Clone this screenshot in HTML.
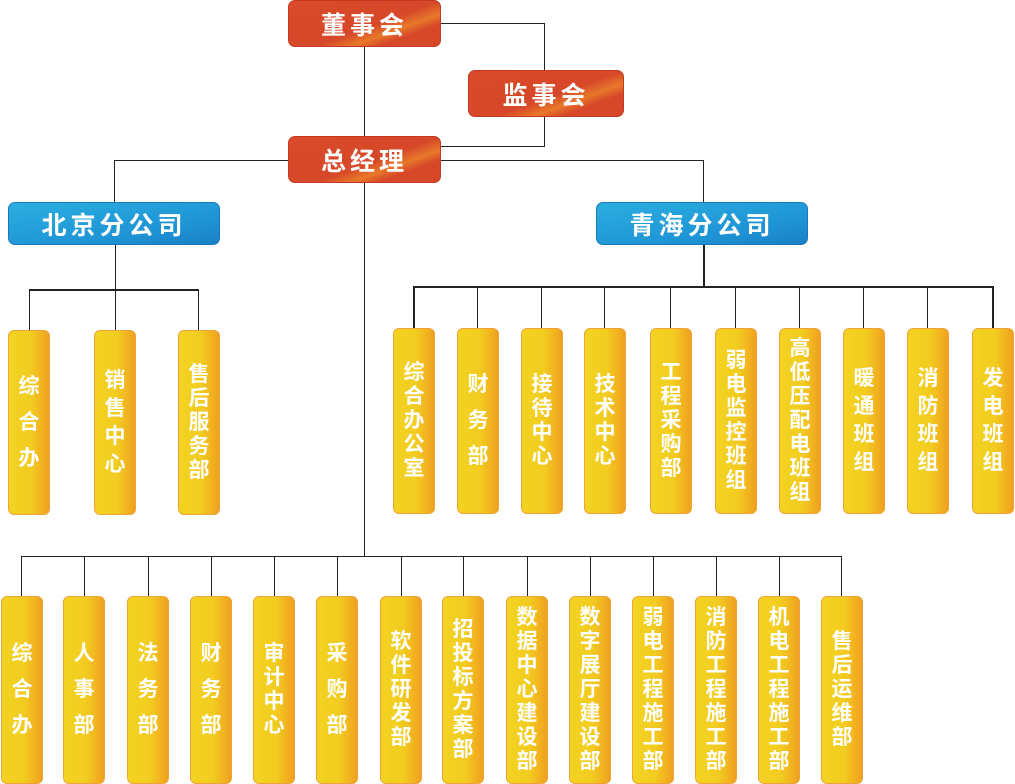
<!DOCTYPE html>
<html><head><meta charset="utf-8"><style>
body{margin:0;width:1015px;height:782px;background:#fff;position:relative;overflow:hidden;font-family:"Liberation Sans","Noto Sans CJK SC",sans-serif;}
.l{position:absolute;background:#222;}
.r,.b{position:absolute;border-radius:7px;color:#fff;font-weight:bold;font-size:25px;letter-spacing:4px;display:flex;align-items:center;justify-content:center;}
.r{background:linear-gradient(160deg,#d94a2a 0%,#d64829 55%,#e8782a 68%,#d64829 78%);border:1px solid #c23a24;width:151px;height:45px;}
.b{background:linear-gradient(170deg,#2aaee0 0%,#1e93d4 70%,#1a7fc4 100%);border:1px solid #1a78b8;width:210px;height:41px;}
.y{position:absolute;width:40px;border:1px solid #eea43a;border-radius:6px;background:linear-gradient(90deg,#f3d322 0%,#f2cc20 55%,#f2b420 80%,#eea020 100%);color:#fff;font-weight:bold;font-size:21px;display:flex;flex-direction:column;align-items:center;justify-content:center;line-height:24px;}
.y span{display:block;}
.s3{line-height:36px}.s4{line-height:28px}
.t1{top:330px;height:183px}.t2{top:328px;height:184px}.t3{top:596px;height:186px}
</style></head><body>
<!-- top lines -->
<div class="l" style="left:441px;top:23px;width:104px;height:1px"></div>
<div class="l" style="left:544px;top:23px;width:1px;height:48px"></div>
<div class="l" style="left:544px;top:117px;width:1px;height:30px"></div>
<div class="l" style="left:441px;top:146px;width:104px;height:1px"></div>
<div class="l" style="left:364px;top:47px;width:1px;height:90px"></div>
<div class="l" style="left:114px;top:160px;width:590px;height:1px"></div>
<div class="l" style="left:114px;top:160px;width:1px;height:43px"></div>
<div class="l" style="left:703px;top:160px;width:1px;height:43px"></div>
<div class="l" style="left:364px;top:183px;width:1px;height:374px"></div>
<!-- beijing lines -->
<div class="l" style="left:115px;top:245px;width:1px;height:45px"></div>
<div class="l" style="left:29px;top:289px;width:170px;height:2px"></div>
<div class="l" style="left:29px;top:289px;width:1px;height:41px"></div>
<div class="l" style="left:115px;top:289px;width:1px;height:41px"></div>
<div class="l" style="left:198px;top:289px;width:1px;height:41px"></div>
<!-- qinghai lines -->
<div class="l" style="left:703px;top:245px;width:2px;height:43px"></div>
<div class="l" style="left:413px;top:286px;width:581px;height:2px"></div>
<div class="l" style="left:413px;top:286px;width:2px;height:42px"></div>
<div class="l" style="left:477px;top:286px;width:1px;height:42px"></div>
<div class="l" style="left:541px;top:286px;width:1px;height:42px"></div>
<div class="l" style="left:604px;top:286px;width:1px;height:42px"></div>
<div class="l" style="left:670px;top:286px;width:1px;height:42px"></div>
<div class="l" style="left:735px;top:286px;width:1px;height:42px"></div>
<div class="l" style="left:799px;top:286px;width:1px;height:42px"></div>
<div class="l" style="left:863px;top:286px;width:1px;height:42px"></div>
<div class="l" style="left:927px;top:286px;width:1px;height:42px"></div>
<div class="l" style="left:992px;top:286px;width:2px;height:42px"></div>
<!-- bottom lines -->
<div class="l" style="left:21px;top:556px;width:821px;height:1px"></div>
<div class="l" style="left:21px;top:556px;width:1px;height:40px"></div>
<div class="l" style="left:84px;top:556px;width:1px;height:40px"></div>
<div class="l" style="left:148px;top:556px;width:1px;height:40px"></div>
<div class="l" style="left:211px;top:556px;width:1px;height:40px"></div>
<div class="l" style="left:274px;top:556px;width:1px;height:40px"></div>
<div class="l" style="left:337px;top:556px;width:1px;height:40px"></div>
<div class="l" style="left:401px;top:556px;width:1px;height:40px"></div>
<div class="l" style="left:463px;top:556px;width:1px;height:40px"></div>
<div class="l" style="left:527px;top:556px;width:1px;height:40px"></div>
<div class="l" style="left:590px;top:556px;width:1px;height:40px"></div>
<div class="l" style="left:653px;top:556px;width:1px;height:40px"></div>
<div class="l" style="left:716px;top:556px;width:1px;height:40px"></div>
<div class="l" style="left:779px;top:556px;width:1px;height:40px"></div>
<div class="l" style="left:841px;top:556px;width:1px;height:40px"></div>

<div class="r" style="left:288px;top:0px">董事会</div>
<div class="r" style="left:468px;top:70px;width:154px">监事会</div>
<div class="r" style="left:288px;top:136px">总经理</div>
<div class="b" style="left:8px;top:202px">北京分公司</div>
<div class="b" style="left:596px;top:202px">青海分公司</div>

<div class="y t1 s3" style="left:8px"><span>综</span><span>合</span><span>办</span></div>
<div class="y t1 s4" style="left:94px"><span>销</span><span>售</span><span>中</span><span>心</span></div>
<div class="y t1" style="left:178px"><span>售</span><span>后</span><span>服</span><span>务</span><span>部</span></div>

<div class="y t2" style="left:393px"><span>综</span><span>合</span><span>办</span><span>公</span><span>室</span></div>
<div class="y t2 s3" style="left:457px"><span>财</span><span>务</span><span>部</span></div>
<div class="y t2" style="left:521px"><span>接</span><span>待</span><span>中</span><span>心</span></div>
<div class="y t2" style="left:584px"><span>技</span><span>术</span><span>中</span><span>心</span></div>
<div class="y t2" style="left:650px"><span>工</span><span>程</span><span>采</span><span>购</span><span>部</span></div>
<div class="y t2" style="left:715px"><span>弱</span><span>电</span><span>监</span><span>控</span><span>班</span><span>组</span></div>
<div class="y t2" style="left:779px"><span>高</span><span>低</span><span>压</span><span>配</span><span>电</span><span>班</span><span>组</span></div>
<div class="y t2 s4" style="left:843px"><span>暖</span><span>通</span><span>班</span><span>组</span></div>
<div class="y t2 s4" style="left:907px"><span>消</span><span>防</span><span>班</span><span>组</span></div>
<div class="y t2 s4" style="left:972px"><span>发</span><span>电</span><span>班</span><span>组</span></div>

<div class="y t3 s3" style="left:1px"><span>综</span><span>合</span><span>办</span></div>
<div class="y t3 s3" style="left:63px"><span>人</span><span>事</span><span>部</span></div>
<div class="y t3 s3" style="left:127px"><span>法</span><span>务</span><span>部</span></div>
<div class="y t3 s3" style="left:190px"><span>财</span><span>务</span><span>部</span></div>
<div class="y t3" style="left:253px"><span>审</span><span>计</span><span>中</span><span>心</span></div>
<div class="y t3 s3" style="left:316px"><span>采</span><span>购</span><span>部</span></div>
<div class="y t3" style="left:380px"><span>软</span><span>件</span><span>研</span><span>发</span><span>部</span></div>
<div class="y t3" style="left:442px"><span>招</span><span>投</span><span>标</span><span>方</span><span>案</span><span>部</span></div>
<div class="y t3" style="left:506px"><span>数</span><span>据</span><span>中</span><span>心</span><span>建</span><span>设</span><span>部</span></div>
<div class="y t3" style="left:569px"><span>数</span><span>字</span><span>展</span><span>厅</span><span>建</span><span>设</span><span>部</span></div>
<div class="y t3" style="left:632px"><span>弱</span><span>电</span><span>工</span><span>程</span><span>施</span><span>工</span><span>部</span></div>
<div class="y t3" style="left:695px"><span>消</span><span>防</span><span>工</span><span>程</span><span>施</span><span>工</span><span>部</span></div>
<div class="y t3" style="left:758px"><span>机</span><span>电</span><span>工</span><span>程</span><span>施</span><span>工</span><span>部</span></div>
<div class="y t3" style="left:821px"><span>售</span><span>后</span><span>运</span><span>维</span><span>部</span></div>
</body></html>
